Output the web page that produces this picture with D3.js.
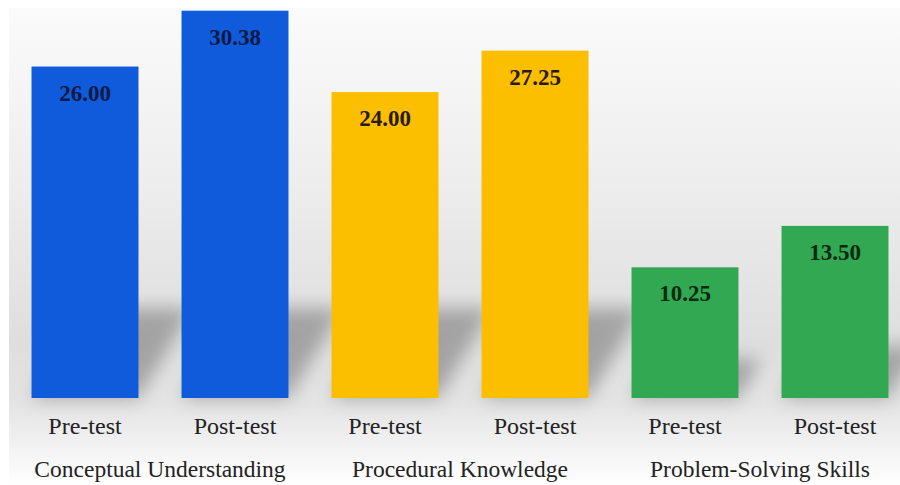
<!DOCTYPE html>
<html>
<head>
<meta charset="utf-8">
<script src="https://cdn.jsdelivr.net/npm/d3@7"></script>
<style>
  body { margin: 0; background: #fff; }
  text { font-family: "Liberation Serif", "Times New Roman", serif; }
</style>
</head>
<body>
<div id="chart"></div>
<script>
const categories = ["Conceptual Understanding", "Procedural Knowledge", "Problem-Solving Skills"];
const tests = ["Pre-test", "Post-test"];
const preValues = [26.00, 24.00, 10.25];
const postValues = [30.38, 27.25, 13.50];
const colors = ["#0f5bdc", "#fbbf00", "#33a853"];
const labelColors = ["#0b1a45", "#2a1a00", "#062a10"];

const bars = [];
categories.forEach((c, i) => {
    bars.push({ cat: c, test: tests[0], value: preValues[i], color: colors[i], lc: labelColors[i], key: c + "|" + tests[0] });
    bars.push({ cat: c, test: tests[1], value: postValues[i], color: colors[i], lc: labelColors[i], key: c + "|" + tests[1] });
});

const width = 900, height = 485;
const bottom = 398;

const svg = d3.select("#chart")
    .append("svg")
    .attr("width", width)
    .attr("height", height);

const defs = svg.append("defs");
const grad = defs.append("linearGradient")
    .attr("id", "bg")
    .attr("x1", 0).attr("y1", 0).attr("x2", 0).attr("y2", 1);
grad.append("stop").attr("offset", "0%").attr("stop-color", "#fbfbfb");
grad.append("stop").attr("offset", "35%").attr("stop-color", "#eeeeee");
grad.append("stop").attr("offset", "70%").attr("stop-color", "#dedede");
grad.append("stop").attr("offset", "83%").attr("stop-color", "#e4e4e4");
grad.append("stop").attr("offset", "100%").attr("stop-color", "#ffffff");

defs.append("filter")
    .attr("id", "blur")
    .attr("x", "-50%").attr("y", "-50%").attr("width", "200%").attr("height", "200%")
    .append("feGaussianBlur")
    .attr("stdDeviation", 9);

svg.append("rect")
    .attr("x", 9).attr("y", 8)
    .attr("width", width - 9).attr("height", height - 8)
    .attr("fill", "url(#bg)");

const x = d3.scaleBand()
    .domain(bars.map(d => d.key))
    .range([10, 910])
    .paddingInner(0.287)
    .paddingOuter(0.1435);

const y = d3.scaleLinear()
    .domain([0, 31.22])
    .range([bottom, 0]);

// soft diagonal shadows behind the bars
svg.selectAll("path.shadow")
    .data(bars)
    .enter()
    .append("path")
    .attr("class", "shadow")
    .attr("d", d => {
        const x0 = x(d.key), x1 = x0 + x.bandwidth();
        const h = Math.min(90, (bottom - y(d.value)) * 0.3);
        const dx = h * 0.6;
        return `M${x0},${bottom} L${x1},${bottom} L${x1 + dx},${bottom - h} L${x0 + dx},${bottom - h} Z`;
    })
    .attr("fill", "#8a8a8a")
    .attr("opacity", 0.7)
    .attr("filter", "url(#blur)");

svg.selectAll("rect.bar")
    .data(bars)
    .enter()
    .append("rect")
    .attr("class", "bar")
    .attr("x", d => x(d.key))
    .attr("y", d => y(d.value))
    .attr("width", x.bandwidth())
    .attr("height", d => bottom - y(d.value))
    .attr("fill", d => d.color);

svg.selectAll("text.value")
    .data(bars)
    .enter()
    .append("text")
    .attr("class", "value")
    .attr("x", d => x(d.key) + x.bandwidth() / 2)
    .attr("y", d => y(d.value) + 34)
    .attr("text-anchor", "middle")
    .style("font-size", "23px")
    .style("font-weight", "bold")
    .attr("fill", d => d.lc)
    .text(d => d.value.toFixed(2));

svg.selectAll("text.test")
    .data(bars)
    .enter()
    .append("text")
    .attr("class", "test")
    .attr("x", d => x(d.key) + x.bandwidth() / 2)
    .attr("y", 434)
    .attr("text-anchor", "middle")
    .style("font-size", "24px")
    .attr("fill", "#222")
    .text(d => d.test);

svg.selectAll("text.cat")
    .data(categories)
    .enter()
    .append("text")
    .attr("class", "cat")
    .attr("x", d => (x(d + "|" + tests[0]) + x(d + "|" + tests[1]) + x.bandwidth()) / 2)
    .attr("y", 477)
    .attr("text-anchor", "middle")
    .style("font-size", "23.5px")
    .attr("fill", "#222")
    .text(d => d);
</script>
</body>
</html>
